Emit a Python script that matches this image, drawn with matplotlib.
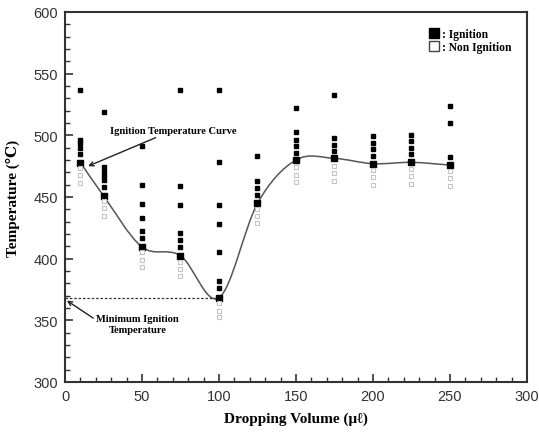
import numpy as np
import matplotlib.pyplot as plt
from matplotlib.path import Path
from matplotlib.patches import PathPatch
from matplotlib.ticker import MultipleLocator
from matplotlib.lines import Line2D

# dropping volume columns
volumes = [10, 25, 50, 75, 100, 125, 150, 175, 200, 225, 250]

# ignition (filled) temperatures per column, last one sits on the curve
ignition = [
    [537, 496.5, 493.5, 489.7, 484.8, 477.8],
    [519, 474, 470.5, 467.3, 463.7, 457.8, 451],
    [491.6, 460, 444.3, 432.7, 422.5, 416.5, 409.2],
    [537, 459, 443.7, 420.5, 415, 409.2, 402.4],
    [537, 478, 443.7, 428, 405.6, 381.6, 376, 368.3],
    [483.5, 463.2, 457, 451.6, 444.8],
    [521.9, 502.4, 496.5, 491, 485.4, 480],
    [533, 497.8, 492.4, 487, 481.3],
    [499.2, 494, 488.9, 483.2, 477],
    [500.2, 495.1, 490, 484.8, 478.1],
    [523.5, 510, 482.3, 475.9],
]

# non ignition (open) temperatures per column
non_ignition = [
    [473.5, 467.8, 461.3],
    [446.5, 441, 434.8],
    [405.2, 399.2, 393.2],
    [397, 391.6, 385.6],
    [363.7, 357.8, 352.4],
    [440, 434.3, 428.6],
    [474, 468, 462],
    [474.9, 469.2, 463.2],
    [471.9, 465.9, 460],
    [472.7, 466.8, 460.8],
    [471, 465.1, 459],
]

# ignition temperature curve points
curve_t = [478, 451, 409.5, 402.4, 368.3, 444.8, 480, 481.3, 477, 478.1, 475.9]
min_temp = 368.3

fig = plt.figure(figsize=(5.39, 4.39), dpi=100)
ax = fig.add_axes([0.1206, 0.1276, 0.8571, 0.8428])

# smooth curve: Catmull-Rom turned into cubic Bezier path
px = np.array(volumes, float)
py = np.array(curve_t, float)
ext_x = np.concatenate([[2 * px[0] - px[1]], px, [2 * px[-1] - px[-2]]])
ext_y = np.concatenate([[2 * py[0] - py[1]], py, [2 * py[-1] - py[-2]]])
verts = [(px[0], py[0])]
codes = [Path.MOVETO]
for i in range(1, len(ext_x) - 2):
    p0 = np.array([ext_x[i - 1], ext_y[i - 1]])
    p1 = np.array([ext_x[i], ext_y[i]])
    p2 = np.array([ext_x[i + 1], ext_y[i + 1]])
    p3 = np.array([ext_x[i + 2], ext_y[i + 2]])
    c1 = p1 + (p2 - p0) / 6
    c2 = p2 - (p3 - p1) / 6
    verts += [tuple(c1), tuple(c2), tuple(p2)]
    codes += [Path.CURVE4] * 3
ax.add_patch(PathPatch(Path(verts, codes), fill=False, edgecolor='#555555', lw=1.1))

# dashed line to minimum
ax.plot([0, 100], [min_temp, min_temp], ls=(0, (2, 1.5)), color='#333333', lw=0.9)

for v, ig, ni in zip(volumes, ignition, non_ignition):
    ax.plot([v] * (len(ig) - 1), ig[:-1], 's', ms=3.3, color='black', ls='none')
    ax.plot([v], ig[-1:], 's', ms=4.6, color='black', ls='none')
    ax.plot([v] * len(ni), ni, 's', ms=3.3, mfc='white', mec='#c4c4c4', mew=0.8, ls='none')

serif = ['Liberation Serif', 'DejaVu Serif']

ax.annotate('Ignition Temperature Curve', xy=(15, 475), xytext=(29, 504),
            fontsize=7.6, fontweight='bold', family=serif, va='center', ha='left',
            arrowprops=dict(arrowstyle='->', color='#222222', lw=1.0, shrinkA=0, shrinkB=0))
ax.annotate('Minimum Ignition\nTemperature', xy=(1.2, 366), xytext=(47, 347),
            fontsize=7.6, fontweight='bold', family=serif, va='center', ha='center',
            linespacing=1.3,
            arrowprops=dict(arrowstyle='->', color='#222222', lw=1.0, shrinkA=0, shrinkB=0,
                            relpos=(0, 0.7)))

handles = [
    Line2D([], [], marker='s', ls='none', color='black', ms=6.5),
    Line2D([], [], marker='s', ls='none', mfc='white', mec='#444444', mew=1.0, ms=6.5),
]
ax.legend(handles, [': Ignition', ': Non Ignition'], loc='upper right',
          bbox_to_anchor=(0.99, 0.985), frameon=False, handlelength=0.6,
          handletextpad=0.45, labelspacing=0.1,
          prop={'family': serif, 'weight': 'bold', 'size': 8.3})

ax.set_xlim(0, 300)
ax.set_ylim(300, 600)
ax.xaxis.set_major_locator(MultipleLocator(50))
ax.xaxis.set_minor_locator(MultipleLocator(10))
ax.yaxis.set_major_locator(MultipleLocator(50))
ax.yaxis.set_minor_locator(MultipleLocator(10))
ax.tick_params(which='both', direction='in', top=False, right=False, color='#333333')
ax.tick_params(which='major', length=6, width=1.2, labelsize=10.5, labelcolor='#333333', pad=5)
ax.tick_params(which='minor', length=3.5, width=1.0)
for lab in ax.get_xticklabels() + ax.get_yticklabels():
    lab.set_family('Liberation Sans')
for s in ax.spines.values():
    s.set_color('#333333')
    s.set_linewidth(1.5)

ax.set_xlabel('Dropping Volume (μℓ)', family=serif, fontweight='bold', fontsize=11, labelpad=6)
ax.set_ylabel('Temperature (℃)', family=serif, fontweight='bold', fontsize=11, labelpad=10)

fig.savefig('out.png', dpi=100)
